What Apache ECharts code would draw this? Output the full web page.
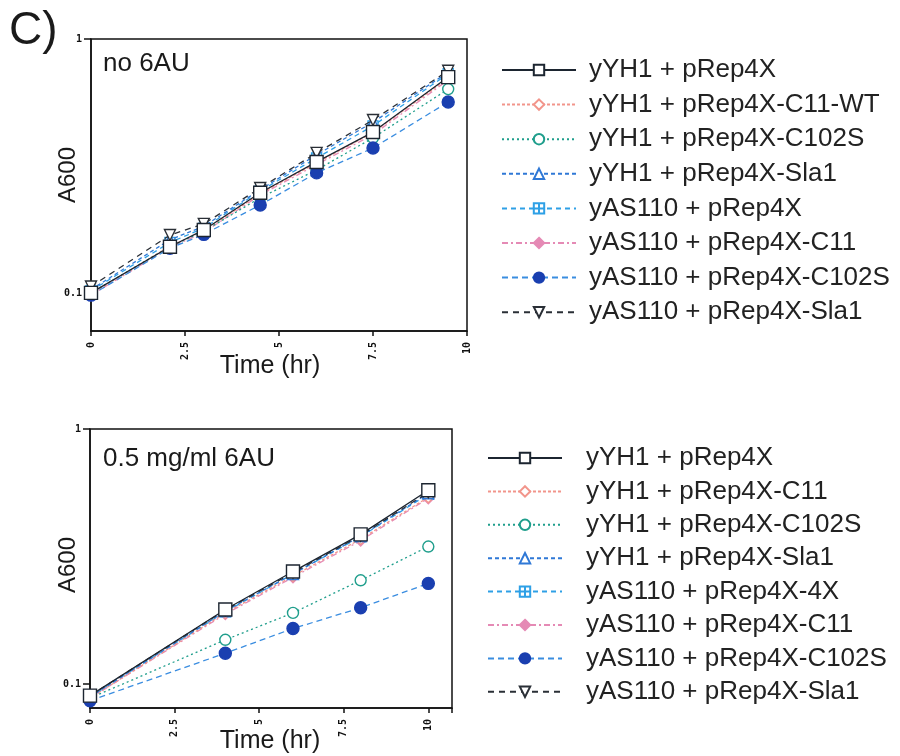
<html>
<head>
<meta charset="utf-8">
<script src="https://cdnjs.cloudflare.com/ajax/libs/echarts/6.0.0/echarts.min.js"></script>
<style>
  html, body { margin: 0; padding: 0; background: #fff; }
  #main { width: 900px; height: 756px; }
</style>
</head>
<body>
<div id="main"></div>
<script>
// sampling times (hr)
var timesTop = [0, 2.1, 3, 4.5, 6, 7.5, 9.5];
var timesBottom = [0, 4, 6, 8, 10];

// series names
var namesTop = [
  'yYH1 + pRep4X', 'yYH1 + pRep4X-C11-WT', 'yYH1 + pRep4X-C102S', 'yYH1 + pRep4X-Sla1',
  'yAS110 + pRep4X', 'yAS110 + pRep4X-C11', 'yAS110 + pRep4X-C102S', 'yAS110 + pRep4X-Sla1'
];
var namesBottom = [
  'yYH1 + pRep4X', 'yYH1 + pRep4X-C11', 'yYH1 + pRep4X-C102S', 'yYH1 + pRep4X-Sla1',
  'yAS110 + pRep4X-4X', 'yAS110 + pRep4X-C11', 'yAS110 + pRep4X-C102S', 'yAS110 + pRep4X-Sla1'
];

// A600, no 6AU
var topYH1 = [0.100, 0.152, 0.177, 0.248, 0.328, 0.430, 0.708];
var topYH1C11 = [0.099, 0.153, 0.175, 0.246, 0.325, 0.428, 0.700];
var topYH1C102S = [0.100, 0.152, 0.175, 0.237, 0.305, 0.408, 0.635];
var topYH1Sla1 = [0.103, 0.162, 0.183, 0.255, 0.350, 0.470, 0.740];
var topAS110 = [0.102, 0.158, 0.180, 0.252, 0.340, 0.455, 0.730];
var topAS110C11 = [0.098, 0.151, 0.173, 0.243, 0.320, 0.420, 0.690];
var topAS110C102S = [0.098, 0.150, 0.170, 0.222, 0.297, 0.372, 0.565];
var topAS110Sla1 = [0.106, 0.169, 0.187, 0.259, 0.356, 0.480, 0.750];

// A600, 0.5 mg/ml 6AU
var botYH1 = [0.090, 0.196, 0.276, 0.386, 0.575];
var botYH1C11 = [0.088, 0.190, 0.265, 0.370, 0.540];
var botYH1C102S = [0.088, 0.149, 0.190, 0.255, 0.346];
var botYH1Sla1 = [0.089, 0.193, 0.270, 0.380, 0.560];
var botAS110 = [0.089, 0.192, 0.270, 0.378, 0.555];
var botAS110C11 = [0.088, 0.188, 0.262, 0.365, 0.535];
var botAS110C102S = [0.086, 0.132, 0.165, 0.199, 0.248];
var botAS110Sla1 = [0.090, 0.195, 0.273, 0.382, 0.565];

var valuesTop = [topYH1, topYH1C11, topYH1C102S, topYH1Sla1, topAS110, topAS110C11, topAS110C102S, topAS110Sla1];
var valuesBottom = [botYH1, botYH1C11, botYH1C102S, botYH1Sla1, botAS110, botAS110C11, botAS110C102S, botAS110Sla1];

// look of each strain/plasmid line, same order in both panels
var looks = [
  { color: '#1c2530', type: 'solid', symbol: 'rect', size: 13, fill: '#fff', z: 10 },
  { color: '#f2958b', type: [3, 2], symbol: 'diamond', size: 11, fill: '#fff', z: 4 },
  { color: '#1f9e8c', type: [2, 3], symbol: 'circle', size: 11, fill: '#fff', z: 5 },
  { color: '#2f78d6', type: [4, 3], symbol: 'triangle', size: 11, fill: '#fff', z: 6 },
  { color: '#2ea0e6', type: [5, 4], symbol: 'path://M0 0H10V10H0ZM5 0V10M0 5H10', size: 10, fill: '#fff', z: 3 },
  { color: '#e58ab5', type: [6, 3, 2, 3], symbol: 'diamond', size: 11, fill: '#e58ab5', z: 2 },
  { color: '#3a8de0', type: [6, 4], symbol: 'circle', size: 12, fill: '#1a3fb0', border: '#1a3fb0', z: 7 },
  { color: '#2a2f36', type: [6, 5], symbol: 'triangle', rotate: 180, size: 11, fill: '#fff', z: 8 }
];

function makeSeries(names, times, values, idx) {
  return names.map(function (n, i) {
    var lk = looks[i];
    return {
      name: n,
      type: 'line',
      xAxisIndex: idx,
      yAxisIndex: idx,
      data: times.map(function (t, j) { return [t, values[i][j]]; }),
      symbol: lk.symbol,
      symbolSize: lk.size,
      symbolRotate: lk.rotate || 0,
      showAllSymbol: true,
      z: lk.z,
      lineStyle: { color: lk.color, width: 1.3, type: lk.type },
      itemStyle: { color: lk.fill, borderColor: lk.border || lk.color, borderWidth: 1.4 }
    };
  });
}

var tickFont = { fontFamily: 'DejaVu Sans Mono', fontWeight: 'bold', fontSize: 10, color: '#111' };

function xAxisFor(idx, max) {
  return {
    type: 'value', gridIndex: idx, min: 0, max: max, interval: 2.5,
    axisLine: { onZero: false, lineStyle: { color: '#111', width: 1.5 } },
    axisTick: { length: 5, lineStyle: { color: '#111', width: 1.5 } },
    axisLabel: Object.assign({
      rotate: 90, margin: 11,
      formatter: function (v) { return (Math.abs(v / 2.5 - Math.round(v / 2.5)) < 1e-6) ? String(v) : ''; }
    }, tickFont),
    splitLine: { show: false }
  };
}

function yAxisFor(idx, min) {
  return {
    type: 'log', logBase: 10, gridIndex: idx, min: min, max: 1,
    axisLine: { onZero: false, lineStyle: { color: '#111', width: 1.5 } },
    axisTick: { length: 7, customValues: [0.1, 1], lineStyle: { color: '#111', width: 1.5 } },
    axisLabel: Object.assign({
      margin: 9, showMinLabel: false,
      formatter: function (v) { return (v === 0.1 || v === 1) ? String(v) : ''; }
    }, tickFont),
    splitLine: { show: false }
  };
}

function legendFor(names, left, top, gap, pad) {
  return {
    data: names, orient: 'vertical', left: left, top: top,
    itemWidth: 74, itemHeight: 13, itemGap: gap,
    textStyle: { fontSize: 26, lineHeight: 30, color: '#222', fontFamily: 'Liberation Sans', padding: [0, 0, 0, pad] }
  };
}

function label(text, x, y, size, align) {
  return {
    type: 'text', x: x, y: y,
    style: { text: text, fontSize: size, fontFamily: 'Liberation Sans', fill: '#1a1a1a', align: align || 'left', verticalAlign: 'middle' }
  };
}

var myChart = echarts.init(document.getElementById('main'), null, { renderer: 'canvas' });
var option = {
  backgroundColor: '#fff',
  animation: false,
  grid: [
    { left: 91, top: 39, width: 376, height: 292, show: true, borderColor: '#111', borderWidth: 1.5 },
    { left: 90, top: 429, width: 362, height: 279, show: true, borderColor: '#111', borderWidth: 1.5 }
  ],
  xAxis: [xAxisFor(0, 10), xAxisFor(1, 10.7)],
  yAxis: [yAxisFor(0, 0.0708), yAxisFor(1, 0.0805)],
  legend: [
    legendFor(namesTop, 496, 50, 4.6, 8),
    legendFor(namesBottom, 482, 438, 3.4, 19)
  ],
  graphic: [
    label('C)', 9, 31, 46),
    label('no 6AU', 103, 64, 26),
    label('0.5 mg/ml 6AU', 103, 459, 26),
    label('Time (hr)', 270, 366, 25, 'center'),
    label('Time (hr)', 270, 741, 25, 'center'),
    { type: 'text', x: 68, y: 175, rotation: Math.PI / 2,
      style: { text: 'A600', fontSize: 24, fontFamily: 'Liberation Sans', fill: '#1a1a1a', align: 'center', verticalAlign: 'middle' } },
    { type: 'text', x: 68, y: 565, rotation: Math.PI / 2,
      style: { text: 'A600', fontSize: 24, fontFamily: 'Liberation Sans', fill: '#1a1a1a', align: 'center', verticalAlign: 'middle' } }
  ],
  series: makeSeries(namesTop, timesTop, valuesTop, 0).concat(makeSeries(namesBottom, timesBottom, valuesBottom, 1))
};
myChart.setOption(option);
</script>
</body>
</html>
